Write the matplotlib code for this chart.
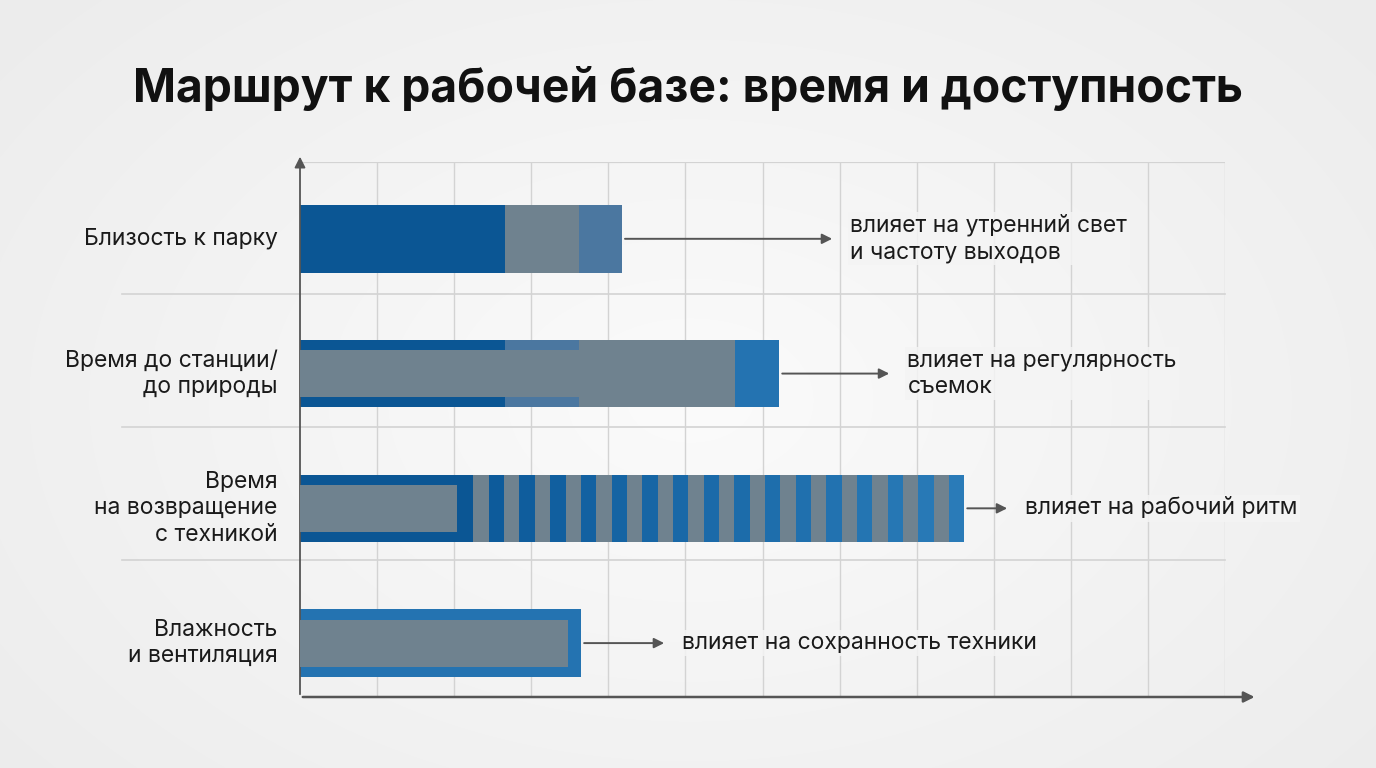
import numpy as np
import matplotlib.pyplot as plt
from matplotlib.colors import LinearSegmentedColormap

# ------------------------------------------------
# Data
# ------------------------------------------------
categories = [
    "Близость к парку",
    "Время до станции/\nдо природы",
    "Время\nна возвращение\nс техникой",
    "Влажность\nи вентиляция",
]

# full-height segment edges for each bar
seg_edges = [
    [0, 2.66, 3.62, 4.18],
    [0, 2.66, 3.62, 5.64, 6.22],
    [0, 2.25, 8.62],
    [0, 3.65],
]
# inner (narrow) gray bar length, None if absent
inner_len = [None, 5.64, 2.04, 3.48]

notes = [
    "влияет на утренний свет\nи частоту выходов",
    "влияет на регулярность\nсъемок",
    "влияет на рабочий ритм",
    "влияет на сохранность техники",
]
arrow_end = [6.94, 7.68, 9.21, 4.76]

# ------------------------------------------------
# Styles
# ------------------------------------------------
DARK = "#0b5694"
STEEL = "#4b77a0"
GRAY = "#6f828f"
BLUE = "#2473b1"
seg_colors = [
    [DARK, GRAY, STEEL],
    [DARK, STEEL, GRAY, BLUE],
    [DARK, "striped"],
    [BLUE],
]
n_stripes = 16

plt.rcParams["font.family"] = ["Inter", "DejaVu Sans"]

fig = plt.figure(figsize=(13.76, 7.68), dpi=100)

# radial gradient background
bg = fig.add_axes([0, 0, 1, 1], zorder=-10)
yy, xx = np.mgrid[0:768, 0:1376]
r = np.sqrt(((xx - 690) / 900) ** 2 + ((yy - 400) / 600) ** 2)
cmap_bg = LinearSegmentedColormap.from_list("bg", ["#fbfbfb", "#ececec"])
bg.imshow(r, cmap=cmap_bg, vmin=0, vmax=1, aspect="auto")
bg.axis("off")

ax = fig.add_axes([300 / 1376, 71 / 768, 925 / 1376, 535 / 768])
ax.set_xlim(0, 12)
ax.set_ylim(3.40, -0.57)
ax.patch.set_alpha(0)
for s in ax.spines.values():
    s.set_visible(False)
ax.set_xticks([])
ax.set_yticks([])

grid_c = "#d3d3d3"
for gx in range(1, 13):
    ax.plot([gx, gx], [-0.57, 3.40], color=grid_c, lw=1, zorder=0)
ax.plot([0, 12], [-0.57, -0.57], color=grid_c, lw=1.6, zorder=0)
for gy in [0.41, 1.40, 2.38]:
    ax.plot([-2.31, 12], [gy, gy], color=grid_c, lw=1.2, zorder=0, clip_on=False)

# axes arrows
ax.annotate("", xy=(0, -0.63), xytext=(0, 3.40),
            arrowprops=dict(arrowstyle="-|>", color="#555555", lw=1.3,
                            mutation_scale=16), annotation_clip=False)
ax.annotate("", xy=(12.42, 3.40), xytext=(0, 3.40),
            arrowprops=dict(arrowstyle="-|>", color="#555555", lw=1.8,
                            mutation_scale=16), annotation_clip=False)

H = 0.5
HI = 0.35
stripe_cmap = LinearSegmentedColormap.from_list("st", ["#0d5b9b", "#2a7bb8"])

for i in range(len(categories)):
    edges = seg_edges[i]
    for j in range(len(edges) - 1):
        left, right = edges[j], edges[j + 1]
        c = seg_colors[i][j]
        if c == "striped":
            ax.barh(i, right - left, left=left, height=H, color=GRAY, zorder=2)
            w = (right - left) / (2 * n_stripes)
            for k in range(n_stripes):
                ax.barh(i, w, left=left + w * (2 * k + 1), height=H,
                        color=stripe_cmap(k / (n_stripes - 1)), zorder=3)
        else:
            ax.barh(i, right - left, left=left, height=H, color=c, zorder=2)
    if inner_len[i] is not None:
        ax.barh(i, inner_len[i], left=0, height=HI, color=GRAY, zorder=4)

    ax.text(-0.29, i, categories[i], ha="right", va="center", fontsize=16.5,
            color="#1a1a1a", linespacing=1.25)

    end = edges[-1]
    ax.annotate("", xy=(arrow_end[i], i), xytext=(end, i),
                arrowprops=dict(arrowstyle="-|>", color="#555555", lw=1.4,
                                mutation_scale=15), zorder=5)
    ax.text(arrow_end[i] + 0.2, i, notes[i], ha="left", va="center",
            fontsize=16.5, color="#1a1a1a", linespacing=1.25, zorder=6,
            bbox=dict(boxstyle="square,pad=0.1", fc="#f4f4f4", ec="none",
                      alpha=0.85))

fig.text(0.5, 0.883, "Маршрут к рабочей базе: время и доступность",
         ha="center", va="center", fontsize=33.3, fontweight="bold", color="#111111")

plt.savefig("out.png", dpi=100)
